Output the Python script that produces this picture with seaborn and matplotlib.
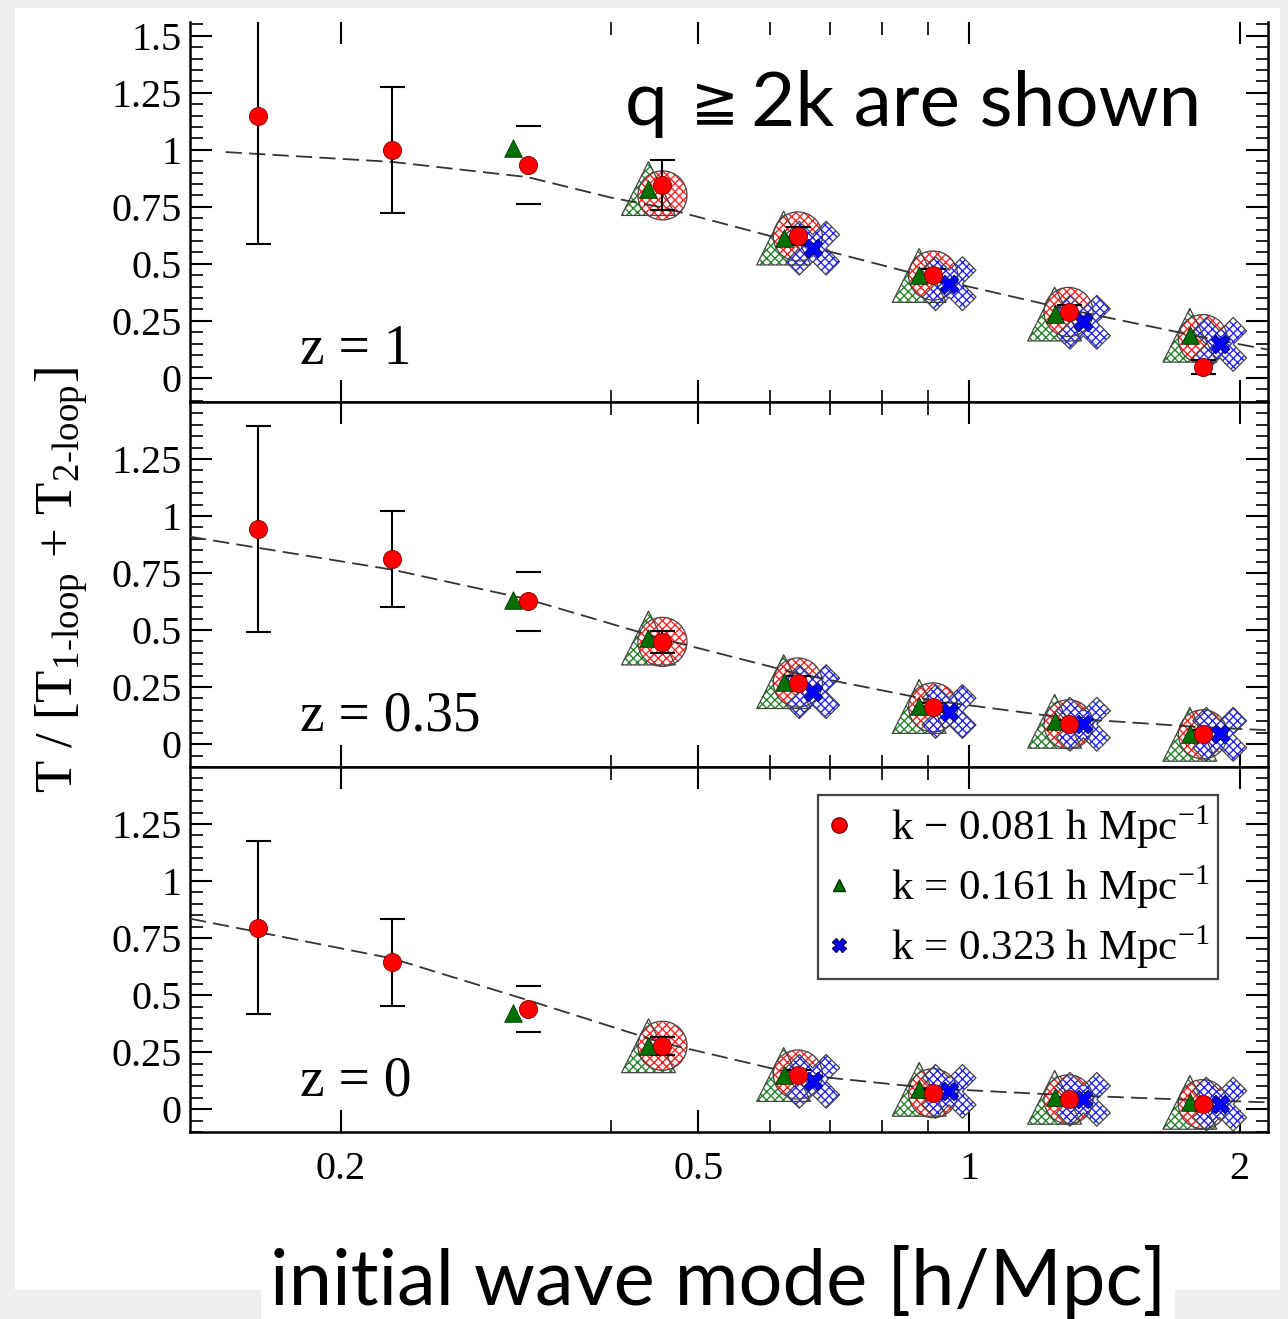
import matplotlib
matplotlib.use("Agg")
import matplotlib.pyplot as plt
import seaborn as sns
import numpy as np
from matplotlib.lines import Line2D
from matplotlib.patches import Rectangle
from matplotlib.ticker import FixedLocator, FixedFormatter, NullFormatter, MultipleLocator

# initial wave modes q [h/Mpc] for each external k
q_red = [0.162, 0.228, 0.323, 0.456, 0.645, 0.912, 1.29, 1.82]
q_green = [0.311, 0.44, 0.622, 0.88, 1.245, 1.76]
q_blue = [0.67, 0.95, 1.34, 1.9]

# z = 1
t_red_z1 = [1.147, 1.0, 0.933, 0.844, 0.622, 0.449, 0.289, 0.049]
e_red_z1 = [0.56, 0.275, 0.17, 0.11, 0.04, 0.03, 0.03, 0.03]
h_red_z1 = [0.80, 0.62, 0.449, 0.289, 0.17]   # large hatched symbols (from 4th bin)
t_green_z1 = [1.009, 0.83, 0.613, 0.449, 0.28, 0.187]
t_blue_z1 = [0.569, 0.413, 0.244, 0.147]
line_q_z1 = [0.149, 0.228, 0.323, 0.40, 0.456, 0.645, 0.912, 1.29, 1.82, 2.15]
line_t_z1 = [0.99, 0.947, 0.88, 0.79, 0.747, 0.59, 0.436, 0.30, 0.178, 0.124]

# z = 0.35
t_red_z035 = [0.943, 0.813, 0.626, 0.448, 0.27, 0.161, 0.087, 0.043]
e_red_z035 = [0.45, 0.21, 0.13, 0.05, 0.03, 0.02, 0.02, 0.02]
h_red_z035 = [0.448, 0.27, 0.161, 0.087, 0.043]
t_green_z035 = [0.63, 0.465, 0.274, 0.165, 0.10, 0.043]
t_blue_z035 = [0.23, 0.143, 0.087, 0.043]
line_q_z035 = [0.136, 0.228, 0.323, 0.456, 0.645, 0.912, 1.29, 1.82, 2.15]
line_t_z035 = [0.909, 0.765, 0.635, 0.461, 0.309, 0.191, 0.113, 0.074, 0.061]

# z = 0
t_red_z0 = [0.796, 0.643, 0.439, 0.278, 0.152, 0.07, 0.043, 0.022]
e_red_z0 = [0.38, 0.19, 0.10, 0.04, 0.02, 0.02, 0.01, 0.01]
h_red_z0 = [0.278, 0.152, 0.07, 0.043, 0.022]
t_green_z0 = [0.42, 0.278, 0.152, 0.087, 0.052, 0.03]
t_blue_z0 = [0.122, 0.078, 0.043, 0.022]
line_q_z0 = [0.136, 0.228, 0.323, 0.456, 0.645, 0.912, 1.29, 1.82, 2.15]
line_t_z0 = [0.835, 0.661, 0.478, 0.291, 0.152, 0.091, 0.061, 0.039, 0.03]

panel_labels = ["z = 1", "z = 0.35", "z = 0"]
legend_labels = ["k − 0.081 h Mpc$^{\\mathregular{-1}}$",
                 "k = 0.161 h Mpc$^{\\mathregular{-1}}$",
                 "k = 0.323 h Mpc$^{\\mathregular{-1}}$"]
x_ticks = [0.2, 0.5, 1, 2]
x_tick_labels = ["0.2", "0.5", "1", "2"]
x_minor = [0.4, 0.6, 0.7, 0.8, 0.9]

# first point of each series drawn with the large hatched symbol
green_hatch_from = 1
red_hatch_from = 3

RED, GREEN, BLUE = "#ff0000", "#007000", "#0000ff"

sns.set_theme(style="ticks")
plt.rcParams["font.family"] = ["Liberation Serif", "DejaVu Serif"]
plt.rcParams["mathtext.fontset"] = "stix"
plt.rcParams["hatch.linewidth"] = 1.0
plt.rcParams["text.color"] = "black"

fig, axes = plt.subplots(3, 1, figsize=(12.88, 13.19), dpi=100, sharex=True,
                         gridspec_kw={"height_ratios": [1.665, 1.6, 1.6], "hspace": 0})
fig.patch.set_facecolor("#efeeec")
fig.patches.append(Rectangle((15 / 1288, 29 / 1319), 1265 / 1288, 1282 / 1319,
                             transform=fig.transFigure, facecolor="white",
                             edgecolor="none", zorder=-10))
fig.subplots_adjust(left=190 / 1288, right=1268 / 1288, top=1 - 22 / 1319, bottom=1 - 1132 / 1319)

panels = [
    (t_red_z1, e_red_z1, h_red_z1, t_green_z1, t_blue_z1, line_q_z1, line_t_z1, (-0.105, 1.56), 1.5),
    (t_red_z035, e_red_z035, h_red_z035, t_green_z035, t_blue_z035, line_q_z035, line_t_z035, (-0.1, 1.5), 1.25),
    (t_red_z0, e_red_z0, h_red_z0, t_green_z0, t_blue_z0, line_q_z0, line_t_z0, (-0.1, 1.5), 1.25),
]

for ax, (t_red, e_red, h_red, t_green, t_blue, lq, lt, ylim, ytop), label in zip(axes, panels, panel_labels):
    ax.set_facecolor("white")

    # large hatched symbols behind
    series = [(q_green[green_hatch_from:], t_green[green_hatch_from:], "^", GREEN, 1500),
              (q_red[red_hatch_from:], h_red, "o", RED, 1250),
              (q_blue, t_blue, "X", BLUE, 1500)]
    for q, t, mk, col, size in series:
        ax.scatter(q, t, s=size, marker=mk, facecolors="white",
                   edgecolors=col, hatch="xxxx", linewidths=0, alpha=0.85, zorder=2)
        ax.scatter(q, t, s=size, marker=mk, facecolors="none",
                   edgecolors="#444444", linewidths=0.9, zorder=2.1)

    sns.lineplot(x=lq, y=lt, ax=ax, color="#333333", linewidth=1.3,
                 linestyle=(0, (9, 4)), sort=False, zorder=3)

    eb = ax.errorbar(q_red, t_red, yerr=e_red, fmt="none", ecolor="black",
                     elinewidth=1.5, capsize=9, capthick=1.5, zorder=4)
    # third bin shows only the caps
    lw = [1.5] * len(q_red)
    lw[2] = 0
    eb[2][0].set_linewidths(lw)

    sns.scatterplot(x=q_green, y=t_green, ax=ax, marker="^", s=160, color=GREEN,
                    edgecolor="#003000", linewidth=0.6, zorder=5)
    sns.scatterplot(x=q_blue, y=t_blue, ax=ax, marker="X", s=180, color=BLUE,
                    edgecolor="#000060", linewidth=0.6, zorder=5)
    sns.scatterplot(x=q_red, y=t_red, ax=ax, marker="o", s=170, color=RED,
                    edgecolor="#800000", linewidth=0.6, zorder=6)

    ax.set_xscale("log")
    ax.set_xlim(0.136, 2.15)
    ax.set_ylim(*ylim)
    yt = np.arange(0, ytop + 0.01, 0.25)
    ax.yaxis.set_major_locator(FixedLocator(yt))
    ax.yaxis.set_major_formatter(FixedFormatter([f"{v:g}" for v in yt]))
    ax.yaxis.set_minor_locator(MultipleLocator(0.05))
    ax.tick_params(axis="both", which="both", direction="in", top=True, right=True,
                   colors="black", labelsize=29)
    ax.tick_params(axis="both", which="major", length=16, width=1.5)
    ax.tick_params(axis="both", which="minor", length=9, width=1.2)
    ax.tick_params(axis="y", pad=6)
    ax.tick_params(axis="x", pad=14)
    for sp in ax.spines.values():
        sp.set_linewidth(1.8)
        sp.set_color("black")
    ax.set_xlabel("")
    ax.set_ylabel("")
    ax.text(0.102, 0.1, label, transform=ax.transAxes, fontsize=40, va="baseline")

# top edge of the figure is cut off in the original
axes[0].spines["top"].set_visible(False)

axes[-1].xaxis.set_major_locator(FixedLocator(x_ticks))
axes[-1].xaxis.set_major_formatter(FixedFormatter(x_tick_labels))
axes[-1].xaxis.set_minor_locator(FixedLocator(x_minor))
axes[-1].xaxis.set_minor_formatter(NullFormatter())
for ax in axes[:-1]:
    ax.tick_params(axis="x", labelbottom=False)

handles = [Line2D([], [], ls="none", marker="o", color=RED, markersize=11, markeredgecolor="#800000"),
           Line2D([], [], ls="none", marker="^", color=GREEN, markersize=9, markeredgecolor="#003000"),
           Line2D([], [], ls="none", marker="X", color=BLUE, markersize=10, markeredgecolor="#000060")]
leg = axes[-1].legend(handles, legend_labels, loc="upper right", bbox_to_anchor=(0.954, 0.924),
                      borderaxespad=0, fontsize=31, frameon=True, fancybox=False, framealpha=1,
                      edgecolor="#444444", handlelength=0.6, handletextpad=0.9,
                      borderpad=0.2, labelspacing=0.28)
leg.get_frame().set_linewidth(1.6)

fig.text(62 / 1288, 1 - 580 / 1319,
         r"T / [T$_{\mathregular{1\text{-}loop}}$ + T$_{\mathregular{2\text{-}loop}}$]",
         rotation=90, fontsize=38, ha="center", va="center")

# note on the top panel; the ≧ sign is set smaller, as in the original
sans = ["Lato", "DejaVu Sans"]
fig.text(625 / 1288, 1 - 125 / 1319, "q", fontsize=55, family=sans, va="baseline")
fig.text(691 / 1288, 1 - 120 / 1319, "≧", fontsize=41, family=["DejaVu Sans"], va="baseline")
fig.text(751 / 1288, 1 - 125 / 1319, "2k are shown", fontsize=55, family=sans, va="baseline")

fig.text(718 / 1288, 1 - 1305 / 1319, "initial wave mode [h/Mpc]", fontsize=56,
         family=sans, va="baseline", ha="center",
         bbox=dict(facecolor="white", edgecolor="none", pad=6))

fig.savefig("out.png", dpi=100, facecolor=fig.get_facecolor())
